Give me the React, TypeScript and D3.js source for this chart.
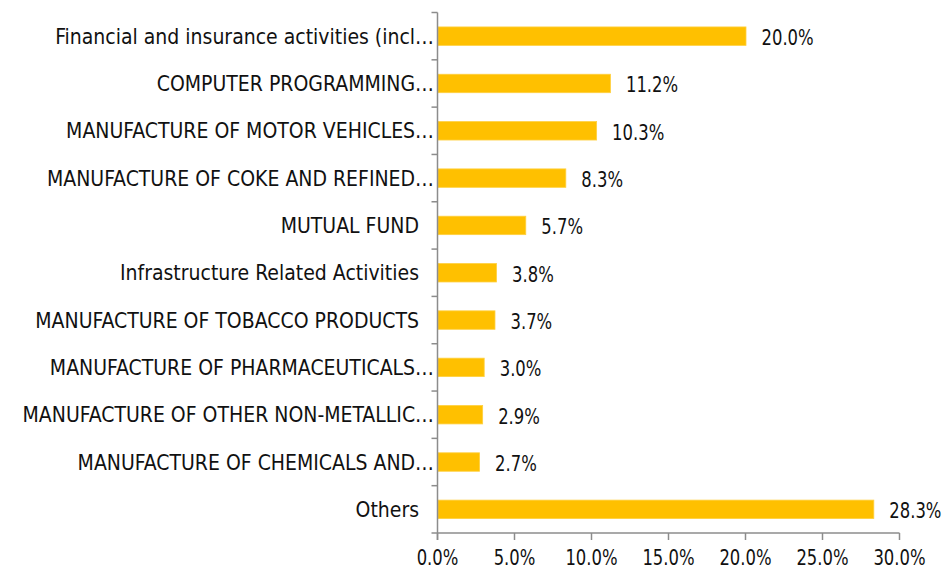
import React, { useEffect } from "react";
import * as d3 from "d3";

const categories = [
  "Financial and insurance activities (incl…",
  "COMPUTER PROGRAMMING…",
  "MANUFACTURE OF MOTOR VEHICLES…",
  "MANUFACTURE OF COKE AND REFINED…",
  "MUTUAL FUND",
  "Infrastructure Related Activities",
  "MANUFACTURE OF TOBACCO PRODUCTS",
  "MANUFACTURE OF PHARMACEUTICALS…",
  "MANUFACTURE OF OTHER NON-METALLIC…",
  "MANUFACTURE OF CHEMICALS AND…",
  "Others",
];
const values = [20.0, 11.2, 10.3, 8.3, 5.7, 3.8, 3.7, 3.0, 2.9, 2.7, 28.3];
const xTicks = [0, 5, 10, 15, 20, 25, 30];

const W = 945;
const H = 574;
const FONT = "'DejaVu Sans Condensed', 'DejaVu Sans', sans-serif";
const NUM_SCALE = 0.83;

export default function App() {
  useEffect(() => {
    document.body.style.margin = "0";
  }, []);

  const x = d3.scaleLinear().domain([0, 30]).range([437.5, 899.5]);
  const y = d3.scaleBand<string>().domain(categories).range([12.5, 533]).paddingInner(0.61).paddingOuter(0.305);
  const step = y.step();
  const y0 = 12.5;
  const axisY = 533;
  const axisColor = "#8c8c8c";
  const fmt = d3.format(".1f");

  return (
    <svg width={W} height={H} style={{ display: "block" }} fontFamily={FONT}>
      <rect width={W} height={H} fill="#ffffff" />
      {categories.map((c, i) => {
        const v = values[i];
        const by = y(c)!;
        const bh = y.bandwidth();
        const truncated = c.endsWith("…");
        return (
          <g key={c}>
            <rect x={x(0) + 0.5} y={by} width={x(v) - x(0)} height={bh} fill="#FFC000" stroke="#FFD040" strokeWidth={0.8} />
            <text
              transform={`translate(${x(v) + 16},${by + bh / 2 + 1}) scale(${NUM_SCALE},1)`}
              dy="0.36em"
              fontSize={22}
              fill="#111"
            >
              {fmt(v)}%
            </text>
            <text x={truncated ? 434 : 419} y={by + bh / 2} dy="0.36em" fontSize={21} textAnchor="end" fill="#111">
              {c}
            </text>
          </g>
        );
      })}
      {/* y axis */}
      <line x1={x(0)} x2={x(0)} y1={y0} y2={axisY + 7} stroke={axisColor} strokeWidth={1.5} />
      {d3.range(categories.length + 1).map((i) => (
        <line key={"yt" + i} x1={x(0) - 6} x2={x(0)} y1={y0 + i * step} y2={y0 + i * step} stroke={axisColor} strokeWidth={1.5} />
      ))}
      {/* x axis */}
      <line x1={x(0)} x2={x(30)} y1={axisY} y2={axisY} stroke={axisColor} strokeWidth={1.5} />
      {xTicks.map((t) => (
        <g key={"xt" + t}>
          <line x1={x(t)} x2={x(t)} y1={axisY} y2={axisY + 7} stroke={axisColor} strokeWidth={1.5} />
          <text
            transform={`translate(${x(t)},557.5) scale(${NUM_SCALE},1)`}
            dy="0.36em"
            textAnchor="middle"
            fontSize={22}
            fill="#111"
          >
            {fmt(t)}%
          </text>
        </g>
      ))}
    </svg>
  );
}
